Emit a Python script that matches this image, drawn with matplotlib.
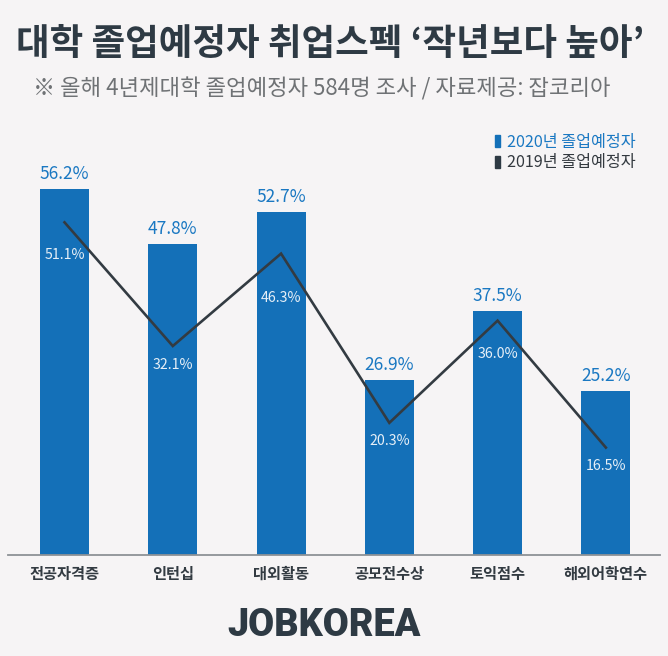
import matplotlib
matplotlib.use("Agg")
import matplotlib.pyplot as plt

plt.rcParams['font.family'] = ['Noto Sans CJK KR', 'DejaVu Sans']

categories = ['전공자격증', '인턴십', '대외활동', '공모전수상', '토익점수', '해외어학연수']
values_2020 = [56.2, 47.8, 52.7, 26.9, 37.5, 25.2]
values_2019 = [51.1, 32.1, 46.3, 20.3, 36.0, 16.5]
# how far each 2019 label sits below its line point, in pixels
label_drop = [33, 19, 44, 18, 33, 18]

BG = '#f6f4f5'
BLUE = '#1470b8'
LABEL_BLUE = '#1a78c2'
DARK = '#2e3a44'
W, H = 668, 656


def main():
    fig = plt.figure(figsize=(W / 100, H / 100), dpi=100, facecolor=BG)
    # axes spans baseline (y=555) up to y=100, x from 8 to 660 in pixels
    ax = fig.add_axes([8 / W, (H - 555) / H, 652 / W, 455 / H])
    ax.set_facecolor('none')

    x = list(range(len(categories)))
    ax.bar(x, values_2020, width=0.452, color=BLUE)
    ax.plot(x, values_2019, color='#333b42', lw=1.9, solid_joinstyle='miter')

    for i, v in enumerate(values_2020):
        ax.annotate(f'{v:.1f}%', (i, v), xytext=(0, 4.5), textcoords='offset points',
                    ha='center', va='bottom', color=LABEL_BLUE, fontsize=12.5,
                    fontweight='medium')
    for i, v in enumerate(values_2019):
        ax.annotate(f'{v:.1f}%', (i, v), xytext=(0, -label_drop[i] * 0.72),
                    textcoords='offset points', ha='center', va='center',
                    color='#e6eff7', fontsize=10.2)

    ax.set_xlim(-0.522, 5.5)
    ax.set_ylim(0, 455 / 6.51)
    ax.set_yticks([])
    ax.set_xticks(x)
    ax.set_xticklabels(categories, fontsize=11, color='#333b42', fontweight='bold')
    ax.tick_params(axis='x', length=0, pad=8)
    for s in ['top', 'left', 'right']:
        ax.spines[s].set_visible(False)
    ax.spines['bottom'].set_color('#8d9296')
    ax.spines['bottom'].set_linewidth(1.3)

    fig.text(330 / W, 1 - 44 / H, '대학 졸업예정자 취업스펙 ‘작년보다 높아’', ha='center', va='center',
             fontsize=26.3, fontweight='bold', color=DARK)
    fig.text(33 / W, 1 - 89 / H, '※ 올해 4년제대학 졸업예정자 584명 조사 / 자료제공: 잡코리아',
             ha='left', va='center', fontsize=16, fontweight='light', color='#6f7275')

    # legend
    fig.patches.append(plt.Rectangle((495 / W, 1 - 147 / H), 5 / W, 12 / H,
                                     transform=fig.transFigure, color=BLUE))
    fig.patches.append(plt.Rectangle((495 / W, 1 - 168 / H), 5 / W, 12 / H,
                                     transform=fig.transFigure, color=DARK))
    fig.text(507 / W, 1 - 142 / H, '2020년 졸업예정자', ha='left', va='center',
             fontsize=11.65, color=LABEL_BLUE)
    fig.text(507 / W, 1 - 162 / H, '2019년 졸업예정자', ha='left', va='center',
             fontsize=11.65, color='#33393f')

    fig.text(324 / W, 1 - 625 / H, 'JOBKOREA', ha='center', va='center', fontsize=27.3,
             fontweight='black', family=['Roboto', 'DejaVu Sans'], color=DARK)

    fig.savefig('out.png', dpi=100, facecolor=BG)


if __name__ == '__main__':
    main()
